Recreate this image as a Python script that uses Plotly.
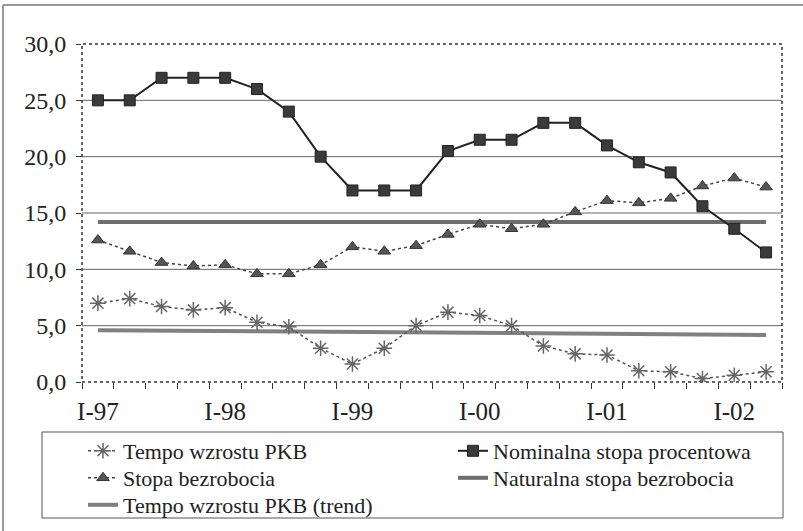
import plotly.graph_objects as go

quarters = ["I-97", "II-97", "III-97", "IV-97",
            "I-98", "II-98", "III-98", "IV-98",
            "I-99", "II-99", "III-99", "IV-99",
            "I-00", "II-00", "III-00", "IV-00",
            "I-01", "II-01", "III-01", "IV-01",
            "I-02", "II-02"]

tempo_pkb = [7.0, 7.4, 6.7, 6.4, 6.6, 5.3, 4.9, 3.0, 1.6, 3.0, 5.0, 6.2,
             5.9, 5.0, 3.2, 2.5, 2.4, 1.0, 0.9, 0.3, 0.6, 0.9]
nominalna = [25.0, 25.0, 27.0, 27.0, 27.0, 26.0, 24.0, 20.0, 17.0, 17.0, 17.0, 20.5,
             21.5, 21.5, 23.0, 23.0, 21.0, 19.5, 18.6, 15.6, 13.6, 11.5]
bezrobocie = [12.6, 11.6, 10.6, 10.3, 10.4, 9.6, 9.6, 10.4, 12.0, 11.6, 12.1, 13.1,
              14.0, 13.6, 14.0, 15.1, 16.1, 15.9, 16.3, 17.4, 18.1, 17.3]
naturalna = [14.2, 14.2, 14.2, 14.2, 14.2, 14.2, 14.2, 14.2, 14.2, 14.2, 14.2, 14.2,
             14.2, 14.2, 14.2, 14.2, 14.2, 14.2, 14.2, 14.2, 14.2, 14.2]
pkb_trend = [4.60, 4.58, 4.56, 4.54, 4.52, 4.50, 4.48, 4.46, 4.44, 4.42, 4.40, 4.38,
             4.36, 4.34, 4.32, 4.30, 4.28, 4.26, 4.24, 4.22, 4.20, 4.18]

y_ticks = [0, 5, 10, 15, 20, 25, 30]
grid_vals = [5, 10, 15, 20, 25]
x_labels = [q if q.startswith("I-") else "" for q in quarters]

FONT = "Times New Roman, Liberation Serif, serif"

# pixel geometry helpers
L, R, T, B = 82, 21, 44, 149
W, H = 803, 531
PW, PH = W - L - R, H - T - B


def px(x):
    return (x - L) / PW


def py(y):
    return (H - B - y) / PH


fig = go.Figure()

fig.add_trace(go.Scatter(
    x=quarters, y=pkb_trend, name="Tempo wzrostu PKB (trend)", mode="lines",
    line=dict(color="#808080", width=4), legend="legend5"))
fig.add_trace(go.Scatter(
    x=quarters, y=naturalna, name="Naturalna stopa bezrobocia", mode="lines",
    line=dict(color="#6e6e6e", width=4), legend="legend4"))
fig.add_trace(go.Scatter(
    x=quarters, y=tempo_pkb, name="Tempo wzrostu PKB", mode="lines+markers",
    line=dict(color="#555", width=1.5, dash="dot"),
    marker=dict(symbol="asterisk-open", size=13, color="#666",
                line=dict(color="#555", width=1.5)),
    legend="legend"))
fig.add_trace(go.Scatter(
    x=quarters, y=bezrobocie, name="Stopa bezrobocia", mode="lines+markers",
    line=dict(color="#444", width=1.5, dash="dot"),
    marker=dict(symbol="triangle-up", size=11, color="#555",
                line=dict(color="#333", width=1)),
    legend="legend3"))
fig.add_trace(go.Scatter(
    x=quarters, y=nominalna, name="Nominalna stopa procentowa", mode="lines+markers",
    line=dict(color="#222", width=2),
    marker=dict(symbol="square", size=11, color="#3a3a3a",
                line=dict(color="#222", width=1)),
    legend="legend2"))

shapes = []
for g in grid_vals:
    shapes.append(dict(type="line", xref="paper", yref="y", x0=0, x1=1, y0=g, y1=g,
                       line=dict(color="#666", width=1), layer="below"))
# plot-area dotted border
shapes.append(dict(type="rect", xref="paper", yref="paper", x0=0, x1=1, y0=0, y1=1,
                   line=dict(color="#333", width=1.5, dash="dot")))
# outer chart frame (top and left)
shapes.append(dict(type="line", xref="paper", yref="paper", x0=px(3), x1=px(803),
                   y0=py(5), y1=py(5), line=dict(color="#777", width=1.5)))
shapes.append(dict(type="line", xref="paper", yref="paper", x0=px(3), x1=px(3),
                   y0=py(5), y1=py(531), line=dict(color="#777", width=1.5)))
# legend box
shapes.append(dict(type="rect", xref="paper", yref="paper", x0=px(42), x1=px(783),
                   y0=py(518), y1=py(432), line=dict(color="#555", width=1)))


def leg(xpix, ypix):
    return dict(x=px(xpix), y=py(ypix), xanchor="left", yanchor="middle",
                font=dict(family=FONT, size=22, color="#222"),
                bgcolor="rgba(0,0,0,0)", borderwidth=0)


fig.update_layout(
    width=W, height=H,
    margin=dict(l=L, r=R, t=T, b=B, autoexpand=False),
    paper_bgcolor="white", plot_bgcolor="white",
    separators=", ",
    font=dict(family=FONT, size=22, color="#222"),
    shapes=shapes,
    showlegend=True,
    legend=leg(83, 451),
    legend2=leg(453, 451),
    legend3=leg(83, 478),
    legend4=leg(453, 478),
    legend5=leg(83, 505),
    xaxis=dict(type="category", categoryorder="array", categoryarray=quarters,
               range=[-0.5, len(quarters) - 0.5],
               tickmode="array", tickvals=quarters, ticktext=x_labels, tickangle=0,
               tickson="boundaries", ticks="outside", ticklen=6, tickcolor="#333",
               ticklabelstandoff=12,
               showgrid=False, showline=False, zeroline=False,
               tickfont=dict(family=FONT, size=25, color="#222")),
    yaxis=dict(range=[0, 30], tickmode="array", tickvals=y_ticks, tickformat=".1f",
               ticks="outside", ticklen=5, tickcolor="#333", ticklabelstandoff=5,
               showgrid=False, showline=False, zeroline=False,
               tickfont=dict(family=FONT, size=24, color="#222")),
)

fig.write_html("out.html")
